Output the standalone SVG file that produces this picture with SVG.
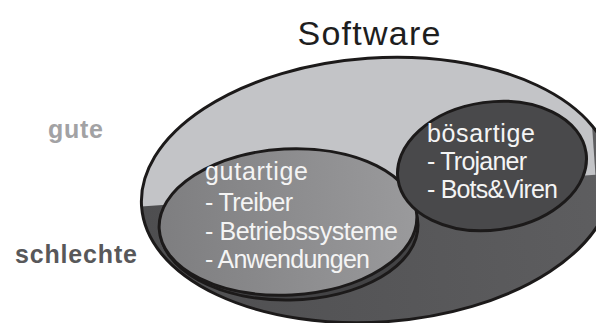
<svg xmlns="http://www.w3.org/2000/svg" width="596" height="323" viewBox="0 0 596 323">
<defs>
<style>
.stk{stroke:#1c1a1a;stroke-width:3}
.in{font-family:"Liberation Sans",Arial,sans-serif;font-size:25px;fill:#f4f4f4}
.side{font-family:"Liberation Sans",Arial,sans-serif;font-weight:bold;font-size:25px}
</style>
<linearGradient id="gBottom" x1="0" y1="0" x2="1" y2="0">
<stop offset="0" stop-color="#4e4e50"/>
<stop offset="1" stop-color="#5e5e60"/>
</linearGradient>
<linearGradient id="gGut" x1="0" y1="0" x2="1" y2="0">
<stop offset="0" stop-color="#7e7e80"/>
<stop offset="1" stop-color="#9a9a9c"/>
</linearGradient>
<clipPath id="topHalf"><rect x="0" y="0" width="596" height="190"/></clipPath>
</defs>
<rect width="596" height="323" fill="#ffffff"/>
<text x="369" y="45" text-anchor="middle" font-family="'Liberation Sans',Arial,sans-serif" font-size="34" fill="#1e1e1e" textLength="143" lengthAdjust="spacing">Software</text>
<text class="side" x="48" y="138" fill="#a2a2a4" textLength="55" lengthAdjust="spacing">gute</text>
<text class="side" x="15" y="263" fill="#58585a" textLength="122" lengthAdjust="spacing">schlechte</text>
<g id="software">
<ellipse cx="377" cy="190" rx="236" ry="132" transform="rotate(-4 377 190)" fill="url(#gBottom)"/>
<ellipse cx="377" cy="190" rx="236" ry="132" transform="rotate(-4 377 190)" fill="#c3c4c7" clip-path="url(#topHalf)"/>
<ellipse cx="377" cy="190" rx="236" ry="132" transform="rotate(-4 377 190)" fill="none" class="stk"/>
</g>
<g id="gutartige">
<ellipse cx="289" cy="227" rx="129" ry="73" transform="rotate(-1 289 227)" fill="#434345" class="stk"/>
<ellipse cx="288" cy="222" rx="129" ry="73" transform="rotate(-3 288 222)" fill="url(#gGut)" class="stk"/>
<text class="in" x="205" y="180" textLength="103" lengthAdjust="spacing">gutartige</text>
<text class="in" x="205" y="211" textLength="88" lengthAdjust="spacing">- Treiber</text>
<text class="in" x="205" y="240" textLength="193" lengthAdjust="spacing">- Betriebssysteme</text>
<text class="in" x="205" y="268" textLength="165" lengthAdjust="spacing">- Anwendungen</text>
</g>
<g id="boesartige">
<ellipse cx="492" cy="166" rx="95" ry="64" transform="rotate(-8 492 166)" fill="#49494b" class="stk"/>
<text class="in" x="427" y="142" textLength="108" lengthAdjust="spacing">bösartige</text>
<text class="in" x="427" y="170" textLength="100" lengthAdjust="spacing">- Trojaner</text>
<text class="in" x="427" y="198" textLength="131" lengthAdjust="spacing">- Bots&amp;Viren</text>
</g>
<g id="connectors"/>
</svg>
